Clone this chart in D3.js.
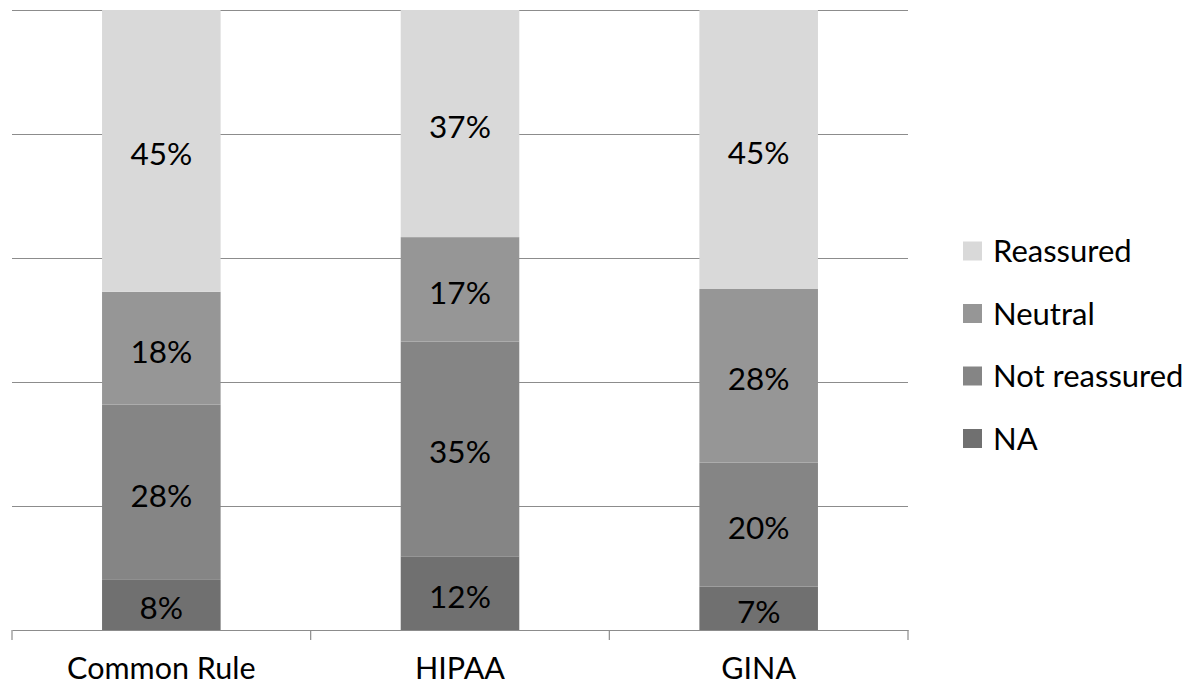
<!DOCTYPE html>
<html>
<head>
<meta charset="utf-8">
<script src="https://cdn.jsdelivr.net/npm/d3@7"></script>
<style>
  body { margin: 0; background: #fff; overflow: hidden; }
  text { font-family: Lato, "Open Sans", sans-serif; fill: #000; }
</style>
</head>
<body>
<div id="chart"></div>
<script>
// Chart data
const categories = ["Common Rule", "HIPAA", "GINA"];
const seriesNames = ["NA", "Not reassured", "Neutral", "Reassured"];
const naValues = [8, 12, 7];
const notReassuredValues = [28, 35, 20];
const neutralValues = [18, 17, 28];
const reassuredValues = [45, 37, 45];
const gridTicks = [0, 0.2, 0.4, 0.6, 0.8, 1];

const colors = {
    "Reassured": "#d9d9d9",
    "Neutral": "#969696",
    "Not reassured": "#858585",
    "NA": "#707070"
};

const svgWidth = 1192;
const svgHeight = 687;
const margin = { top: 10, left: 12, right: 284, bottom: 57 };
const width = svgWidth - margin.left - margin.right;
const height = svgHeight - margin.top - margin.bottom;

const svg = d3.select("#chart")
    .append("svg")
    .attr("width", svgWidth)
    .attr("height", svgHeight)
    .style("display", "block");

const chartGroup = svg.append("g")
    .attr("transform", `translate(${margin.left}, ${margin.top})`);

// Build rows for the stack
const rows = categories.map((c, i) => ({
    category: c,
    "NA": naValues[i],
    "Not reassured": notReassuredValues[i],
    "Neutral": neutralValues[i],
    "Reassured": reassuredValues[i]
}));

const stacked = d3.stack()
    .keys(seriesNames)
    .offset(d3.stackOffsetExpand)(rows);

// Scales
const xScale = d3.scaleBand()
    .domain(categories)
    .range([0, width]);

const yScale = d3.scaleLinear()
    .domain([0, 1])
    .range([height, 0]);

const barWidth = xScale.bandwidth() * 0.397;

// Gridlines
chartGroup.selectAll(".grid")
    .data(gridTicks.slice(1))
    .join("line")
    .attr("x1", 0)
    .attr("x2", width)
    .attr("y1", d => yScale(d) + 0.5)
    .attr("y2", d => yScale(d) + 0.5)
    .attr("stroke", "#8c8c8c")
    .attr("stroke-width", 1.2);

// Bars
const layers = chartGroup.selectAll(".layer")
    .data(stacked)
    .join("g")
    .attr("fill", d => colors[d.key]);

layers.selectAll("rect")
    .data(d => d)
    .join("rect")
    .attr("x", d => xScale(d.data.category) + (xScale.bandwidth() - barWidth) / 2)
    .attr("y", d => yScale(d[1]))
    .attr("width", barWidth)
    .attr("height", d => yScale(d[0]) - yScale(d[1]));

// Data labels
layers.selectAll("text")
    .data(d => d.map(p => ({ p, key: d.key })))
    .join("text")
    .attr("x", d => xScale(d.p.data.category) + xScale.bandwidth() / 2)
    .attr("y", d => (yScale(d.p[0]) + yScale(d.p[1])) / 2)
    .attr("dy", "0.46em")
    .attr("text-anchor", "middle")
    .style("font-size", "31.5px")
    .text(d => d.p.data[d.key] + "%");

// X axis
const bottomAxis = d3.axisBottom(xScale)
    .tickSize(0)
    .tickPadding(27);

const xAxis = chartGroup.append("g")
    .attr("transform", `translate(0, ${height})`)
    .call(bottomAxis);

xAxis.select(".domain")
    .attr("stroke", "#8c8c8c")
    .attr("stroke-width", 1.2);
xAxis.selectAll(".tick text")
    .style("font-size", "30.5px")
    .style("font-family", "Lato, sans-serif")
    .attr("fill", "#000");

// Category separator ticks
xAxis.selectAll(".sep")
    .data(categories.map(c => xScale(c)).concat([width]))
    .join("line")
    .attr("x1", d => d)
    .attr("x2", d => d)
    .attr("y1", 0)
    .attr("y2", 10)
    .attr("stroke", "#8c8c8c")
    .attr("stroke-width", 1.2);

// Legend
const legendItems = seriesNames.slice().reverse();
const legend = svg.append("g")
    .attr("transform", "translate(963, 251)");

const legendRow = legend.selectAll("g")
    .data(legendItems)
    .join("g")
    .attr("transform", (d, i) => `translate(0, ${i * 62.5})`);

legendRow.append("rect")
    .attr("x", 0)
    .attr("y", -9.5)
    .attr("width", 19)
    .attr("height", 19)
    .attr("fill", d => colors[d]);

legendRow.append("text")
    .attr("x", 30)
    .attr("y", 0)
    .attr("dy", "0.36em")
    .style("font-size", "31px")
    .text(d => d);
</script>
</body>
</html>
